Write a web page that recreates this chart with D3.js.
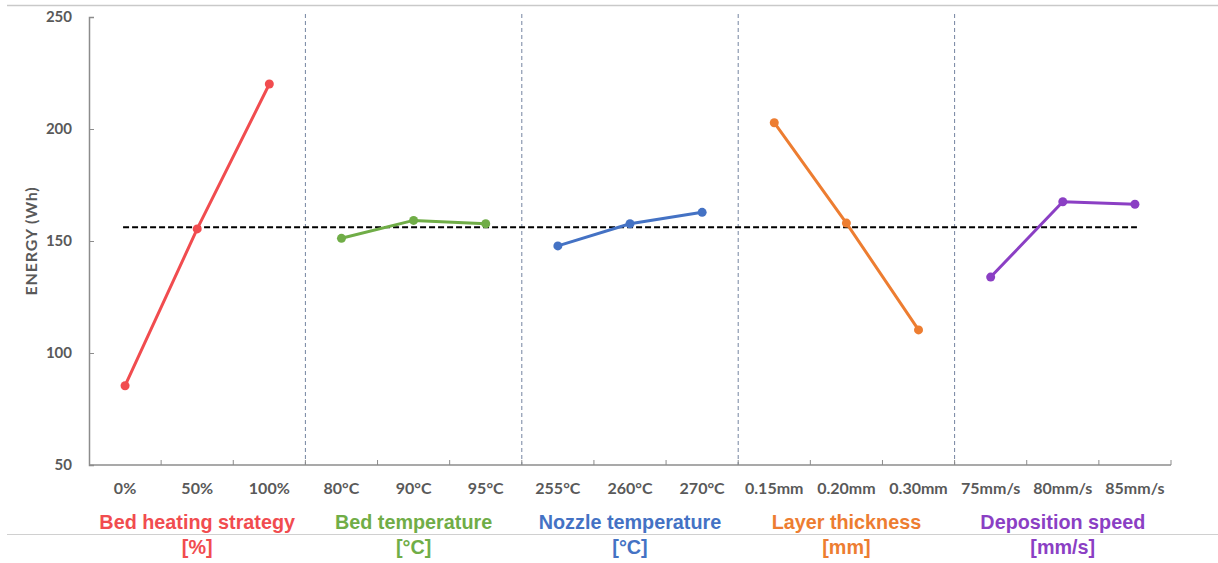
<!DOCTYPE html>
<html>
<head>
<meta charset="utf-8">
<script src="https://cdn.jsdelivr.net/npm/d3@7"></script>
<style>
  body { margin: 0; background: #fff; }
  svg text { font-family: Lato, "Liberation Sans", sans-serif; }
</style>
</head>
<body>
<div class="chart"></div>
<script>
// data
var groups = ["Bed heating strategy", "Bed temperature", "Nozzle temperature", "Layer thickness", "Deposition speed"];
var units = ["[%]", "[°C]", "[°C]", "[mm]", "[mm/s]"];
var groupColors = ["#F14C4F", "#70AD47", "#4472C4", "#ED7D31", "#8B3FC4"];
var levels = [
  ["0%", "50%", "100%"],
  ["80°C", "90°C", "95°C"],
  ["255°C", "260°C", "270°C"],
  ["0.15mm", "0.20mm", "0.30mm"],
  ["75mm/s", "80mm/s", "85mm/s"]
];
var energy = [
  [85.4, 155.4, 220.1],
  [151.2, 159.2, 157.7],
  [147.8, 157.7, 162.8],
  [202.8, 158.0, 110.3],
  [133.9, 167.5, 166.4]
];
var meanEnergy = 156.1;
var yTicks = [50, 100, 150, 200, 250];

var W = 1218, H = 563;
// plot box (note: "top" is taken by window.top, so use other names)
var plotL = 89, plotR = 1171, plotT = 17, plotB = 465;

var svg = d3.select(".chart").append("svg").attr("width", W).attr("height", H);

// all category keys in order, made unique by group index
var keys = [];
levels.forEach(function (lv, g) { lv.forEach(function (l) { keys.push(g + "|" + l); }); });

var x = d3.scaleBand().domain(keys).range([plotL, plotR]).paddingInner(0).paddingOuter(0);
var y = d3.scaleLinear().domain([50, 250]).range([plotB, plotT]);

// frame lines top and bottom
svg.append("line").attr("x1", 7).attr("x2", W).attr("y1", 5.5).attr("y2", 5.5)
  .attr("stroke", "#c9c9c9").attr("stroke-width", 1.5);
svg.append("line").attr("x1", 7).attr("x2", W).attr("y1", 534.5).attr("y2", 534.5)
  .attr("stroke", "#d0d0d0").attr("stroke-width", 1);

// group separators
for (var g = 1; g < groups.length; g++) {
  var sx = x(g + "|" + levels[g][0]);
  svg.append("line").attr("x1", sx).attr("x2", sx).attr("y1", 14).attr("y2", plotB)
    .attr("stroke", "#7484a0").attr("stroke-width", 1).attr("stroke-dasharray", "4,3");
}

// y axis
var yAxis = d3.axisLeft(y).tickValues(yTicks).tickSize(-5).tickPadding(17);
var ya = svg.append("g").attr("transform", "translate(" + plotL + ",0)").call(yAxis);
ya.select(".domain").attr("stroke", "#8c8c8c").attr("stroke-width", 1.5);
ya.selectAll(".tick line").attr("stroke", "#8c8c8c").attr("stroke-width", 1);
ya.selectAll(".tick text").attr("fill", "#595959").style("font-size", "15px").style("font-weight", "bold")
  .style("font-family", "Lato, sans-serif");

// x axis: ticks at category boundaries
var boundaries = keys.map(function (k) { return x(k); }).concat([plotR]);
var xb = svg.append("g");
xb.append("line").attr("x1", plotL).attr("x2", plotR).attr("y1", plotB).attr("y2", plotB)
  .attr("stroke", "#8c8c8c").attr("stroke-width", 1.5);
xb.selectAll("line.tk").data(boundaries.slice(1)).enter().append("line").attr("class", "tk")
  .attr("x1", function (d) { return d; }).attr("x2", function (d) { return d; })
  .attr("y1", plotB - 5).attr("y2", plotB)
  .attr("stroke", "#8c8c8c").attr("stroke-width", 1);

xb.selectAll("text.lv").data(keys).enter().append("text").attr("class", "lv")
  .attr("x", function (k) { return x(k) + x.bandwidth() / 2; })
  .attr("y", 494)
  .attr("text-anchor", "middle")
  .attr("fill", "#595959").style("font-size", "16px").style("font-weight", "bold")
  .text(function (k) { return k.split("|")[1]; });

// y title
svg.append("text")
  .attr("transform", "translate(37,241) rotate(-90)")
  .attr("text-anchor", "middle")
  .attr("fill", "#595959").style("font-size", "16px").style("font-weight", "bold")
  .style("letter-spacing", "0.8px")
  .text("ENERGY (Wh)");

// group titles
groups.forEach(function (name, g) {
  var cx = (x(g + "|" + levels[g][0]) + x(g + "|" + levels[g][2]) + x.bandwidth()) / 2;
  var t = svg.append("text").attr("text-anchor", "middle").attr("fill", groupColors[g])
    .style("font-family", "'Liberation Sans', Arial, sans-serif")
    .style("font-size", "19.8px").style("font-weight", "bold");
  t.append("tspan").attr("x", cx).attr("y", 529).text(name);
  t.append("tspan").attr("x", cx).attr("y", 554).text(units[g]);
});

// mean line
var firstX = x(keys[0]) + x.bandwidth() / 2, lastX = x(keys[keys.length - 1]) + x.bandwidth() / 2;
svg.append("line").attr("x1", firstX - 2).attr("x2", lastX + 2)
  .attr("y1", y(meanEnergy)).attr("y2", y(meanEnergy))
  .attr("stroke", "#000").attr("stroke-width", 2).attr("stroke-dasharray", "6,3");

// series
var line = d3.line().x(function (d) { return d[0]; }).y(function (d) { return d[1]; });
energy.forEach(function (vals, g) {
  var pts = vals.map(function (v, i) {
    return [x(g + "|" + levels[g][i]) + x.bandwidth() / 2, y(v)];
  });
  svg.append("path").attr("d", line(pts)).attr("fill", "none")
    .attr("stroke", groupColors[g]).attr("stroke-width", 3).attr("stroke-linejoin", "round");
  svg.selectAll("circle.g" + g).data(pts).enter().append("circle").attr("class", "g" + g)
    .attr("cx", function (d) { return d[0]; }).attr("cy", function (d) { return d[1]; })
    .attr("r", 4.5).attr("fill", groupColors[g]);
});
</script>
</body>
</html>
